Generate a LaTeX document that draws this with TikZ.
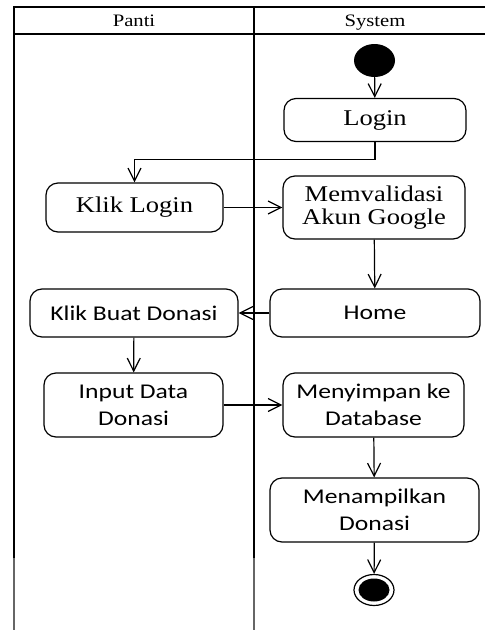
\documentclass[tikz,border=0pt]{standalone}
\usepackage{fontspec}
\usetikzlibrary{arrows.meta,shapes.geometric}
\newfontfamily\srffont[FakeStretch=1.18]{Liberation Serif}
\newfontfamily\calfont[FakeStretch=1.22]{Carlito}
\tikzset{
  lane/.style={line width=1.8pt},
  lanefade/.style={line width=1.8pt, draw=black!60},
  act/.style={draw, rounded corners=12pt, line width=1.2pt, inner sep=0pt, align=center},
  serifact/.style={act, font=\srffont\fontsize{22.5}{23}\selectfont},
  sansact/.style={act, font=\calfont\fontsize{21}{27}\selectfont},
  lanetitle/.style={font=\srffont\fontsize{17.5}{18}\selectfont, inner sep=0pt},
  flow/.style={-{Straight Barb[length=13pt,width=13pt,line width=1.2pt]}, line width=1.2pt},
}
\begin{document}
\begin{tikzpicture}[x=1pt,y=-1pt]
\useasboundingbox (0,0) rectangle (485,630);

% swimlane frame
\draw[lane] (14,7) -- (485,7);
\draw[line width=1.6pt] (14,34) -- (485,34);
\draw[lane] (14,6.1) -- (14,558);
\draw[lanefade] (14,558) -- (14,630);
\draw[lane] (254,6.1) -- (254,558);
\draw[lanefade] (254,558) -- (254,630);
\node[lanetitle, anchor=base] (tpanti) at (134,26.5) {Panti};
\node[lanetitle, anchor=base] (tsystem) at (375,26.5) {System};

% activities
\node[ellipse, fill=black, minimum width=41pt, minimum height=33pt, inner sep=0pt] (start) at (374.5,60.5) {};
\node[serifact, minimum width=182pt, minimum height=43pt] (login) at (375,120) {Login};
\node[serifact, minimum width=177pt, minimum height=49pt] (kliklogin) at (134.5,207.5) {Klik Login};
\node[serifact, minimum width=182pt, minimum height=63pt] (validasi) at (374,207.5) {Memvalidasi\\Akun Google};
\node[sansact, minimum width=210pt, minimum height=48pt] (home) at (375,313) {Home};
\node[sansact, minimum width=208pt, minimum height=48pt] (buat) at (134,313) {Klik Buat Donasi};
\node[sansact, minimum width=179pt, minimum height=64pt] (input) at (133.5,405) {Input Data\\Donasi};
\node[sansact, minimum width=181pt, minimum height=64pt] (simpan) at (373.5,405) {Menyimpan ke\\Database};
\node[sansact, minimum width=209pt, minimum height=64pt] (tampil) at (374.5,510) {Menampilkan\\Donasi};
\node[ellipse, draw, line width=1.2pt, minimum width=40pt, minimum height=31pt, inner sep=0pt] (endring) at (374,590) {};
\node[ellipse, fill=black, minimum width=31pt, minimum height=23pt, inner sep=0pt] (enddot) at (endring.center) {};

% control flow
\draw[flow] (start) -- (login);
\draw[flow] (login.south) -- ++(0,17.5) -| (kliklogin.north);
\draw[flow] (kliklogin) -- (validasi);
\draw[flow] (validasi) -- (home);
\draw[flow] (home) -- (buat);
\draw[flow] (buat) -- (input);
\draw[flow] (input) -- (simpan);
\draw[flow] (simpan) -- (tampil);
\draw[flow] (tampil) -- (endring);
\end{tikzpicture}
\end{document}
